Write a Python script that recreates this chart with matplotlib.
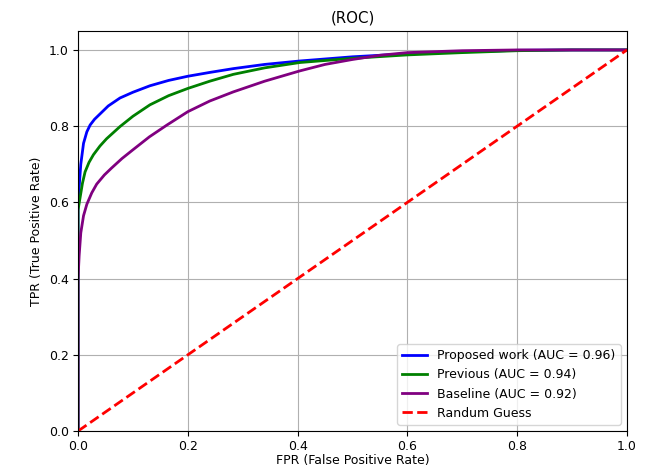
import matplotlib
matplotlib.use('Agg')
import matplotlib.pyplot as plt

plt.rcParams['font.size'] = 9

# ROC curve points
fpr_proposed = [0, 0, 0.002, 0.005, 0.01, 0.016, 0.022, 0.03, 0.04, 0.055, 0.0765, 0.1, 0.131, 0.165,
                0.2, 0.24, 0.283, 0.34, 0.404, 0.5, 0.6, 0.7, 0.8, 0.9, 1.0]
tpr_proposed = [0, 0.60, 0.64, 0.70, 0.755, 0.785, 0.803, 0.818, 0.832, 0.853, 0.874, 0.889, 0.906, 0.92,
                0.931, 0.941, 0.951, 0.962, 0.971, 0.982, 0.99, 0.995, 0.999, 1.0, 1.0]

fpr_previous = [0, 0, 0.004, 0.008, 0.0128, 0.02, 0.028, 0.04, 0.052, 0.0765, 0.1, 0.131, 0.165,
                0.2, 0.24, 0.283, 0.34, 0.404, 0.5, 0.6, 0.7, 0.8, 0.9, 1.0]
tpr_previous = [0, 0.58, 0.615, 0.65, 0.68, 0.705, 0.725, 0.748, 0.767, 0.799, 0.826, 0.856, 0.88,
                0.899, 0.918, 0.936, 0.953, 0.967, 0.978, 0.987, 0.993, 0.998, 1.0, 1.0]

fpr_baseline = [0, 0, 0.002, 0.005, 0.01, 0.016, 0.025, 0.034, 0.048, 0.061, 0.08, 0.1, 0.13, 0.162,
                0.2, 0.24, 0.283, 0.34, 0.404, 0.45, 0.5, 0.55, 0.6, 0.7, 0.8, 1.0]
tpr_baseline = [0, 0.40, 0.46, 0.52, 0.565, 0.595, 0.625, 0.648, 0.672, 0.69, 0.715, 0.738, 0.772, 0.803,
                0.838, 0.866, 0.89, 0.918, 0.945, 0.962, 0.975, 0.986, 0.993, 0.998, 1.0, 1.0]

auc_values = [0.96, 0.94, 0.92]
random_x = [0, 1]
random_y = [0, 1]

fig = plt.figure(figsize=(6.45, 4.68), dpi=100)
ax = fig.add_axes([0.121, 0.079, 0.851, 0.855])

ax.plot(fpr_proposed, tpr_proposed, color='blue', lw=2,
        label=f'Proposed work (AUC = {auc_values[0]:.2f})')
ax.plot(fpr_previous, tpr_previous, color='green', lw=2,
        label=f'Previous (AUC = {auc_values[1]:.2f})')
ax.plot(fpr_baseline, tpr_baseline, color='purple', lw=2,
        label=f'Baseline (AUC = {auc_values[2]:.2f})')
ax.plot(random_x, random_y, color='red', lw=2, linestyle='--', label='Randum Guess')

ax.set_xlim(0, 1)
ax.set_ylim(0, 1.05)
ax.set_title('(ROC)')
ax.set_xlabel('FPR (False Positive Rate)', labelpad=1)
ax.set_ylabel('TPR (True Positive Rate)')
ax.tick_params(pad=3)
ax.grid(True)
ax.legend(loc='lower right')

fig.savefig('out.png', dpi=100)
